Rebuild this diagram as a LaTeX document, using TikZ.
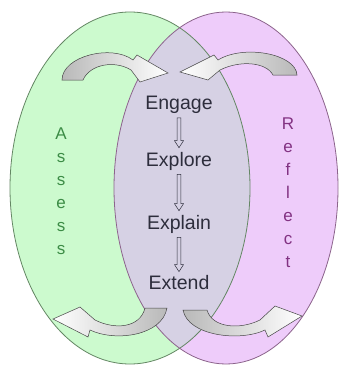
\documentclass[tikz,border=0pt]{standalone}
\usepackage{fontspec}
\setmainfont{Liberation Sans}
\usetikzlibrary{arrows.meta, positioning, calc}

\definecolor{assessfill}{RGB}{204,250,206}
\definecolor{reflectfill}{RGB}{238,204,250}
\definecolor{overlapfill}{RGB}{214,209,228}
\definecolor{assesstext}{RGB}{60,140,70}
\definecolor{reflecttext}{RGB}{130,50,130}
\definecolor{phasetext}{RGB}{45,45,60}
\definecolor{assessrim}{RGB}{100,135,100}
\definecolor{reflectrim}{RGB}{140,100,140}

\begin{document}
\begin{tikzpicture}[
        x = 1pt, y = -1pt,
        node distance = 58pt,
        on grid,
        phase/.style = {text = phasetext, font = \fontsize{19.5}{21}\selectfont,
                        inner xsep = 0pt, inner ysep = 4pt},
        side/.style = {font = \fontsize{17}{23}\selectfont, align = center, inner sep = 0pt},
        flow/.style = {draw = phasetext, line width = 0.5pt,
            to path = {let \p1 = (\tikztostart), \p2 = (\tikztotarget) in
                (\x1-1.8pt,\y1) -- (\x1-1.8pt,\y2+7pt) -- (\x1-4.5pt,\y2+7pt) -- (\x1,\y2)
                -- (\x1+4.5pt,\y2+7pt) -- (\x1+1.8pt,\y2+7pt) -- (\x1+1.8pt,\y1) -- cycle}},
        loop arrow/.style = {draw = gray!55!black, line width = 0.5pt}
    ]

      \useasboundingbox (0,0) rectangle (343,369);
      \fill[white] (0,0) rectangle (343,369);

      % the two rings
      \fill[assessfill]  (130,188) ellipse [x radius = 120pt, y radius = 176pt];
      \fill[reflectfill] (226,188) ellipse [x radius = 112pt, y radius = 176pt];
      \begin{scope}
        \clip (130,188) ellipse [x radius = 120pt, y radius = 176pt];
        \fill[overlapfill] (226,188) ellipse [x radius = 112pt, y radius = 176pt];
      \end{scope}
      \draw[assessrim, line width = 0.8pt]  (130,188) ellipse [x radius = 120pt, y radius = 176pt];
      \draw[reflectrim, line width = 0.8pt] (226,188) ellipse [x radius = 112pt, y radius = 176pt];

      % curved arrows
      \draw[loop arrow, left color = gray!55, right color = white]
            (62,80) .. controls (62,56) and (112,44) .. (133,60)
            -- (137,55) -- (168,73) -- (140,82) -- (131,70)
            .. controls (115,60) and (90,64) .. (83,80) -- cycle;
      \draw[loop arrow, left color = white, right color = gray!55]
            (297,75) .. controls (296,54) and (244,44) .. (218,60)
            -- (214,55) -- (180,72) -- (208,80) -- (220,70)
            .. controls (240,60) and (266,62) .. (273,75) -- cycle;
      \draw[loop arrow, left color = white, right color = gray!55]
            (167,308) .. controls (162,336) and (115,342) .. (90,330)
            -- (88,337) -- (53,319) -- (80,307) -- (95,320)
            .. controls (115,330) and (140,328) .. (145,308) -- cycle;
      \draw[loop arrow, left color = gray!55, right color = white]
            (183,310) .. controls (188,336) and (240,342) .. (265,330)
            -- (268,337) -- (302,316) -- (275,306) -- (260,320)
            .. controls (240,330) and (212,328) .. (207,310) -- cycle;

      % the four phases
      \node[phase] (engage)  at (179,105)            {Engage};
      \node[phase] (explore) [below = 56pt of engage]  {Explore};
      \node[phase] (explain) [below = 63pt of explore] {Explain};
      \node[phase] (extend)  [below = 59pt of explain] {Extend};

      \draw[flow] (engage.south)  to (explore.north);
      \draw[flow] (explore.south) to (explain.north);
      \draw[flow] (explain.south) to (extend.north);

      % side words
      \node[side, text = assesstext]  (assess)  at (61,191)  {A\\s\\s\\e\\s\\s};
      \node[side, text = reflecttext] (reflect) at (288,193) {R\\e\\f\\l\\e\\c\\t};

    \end{tikzpicture}
\end{document}
